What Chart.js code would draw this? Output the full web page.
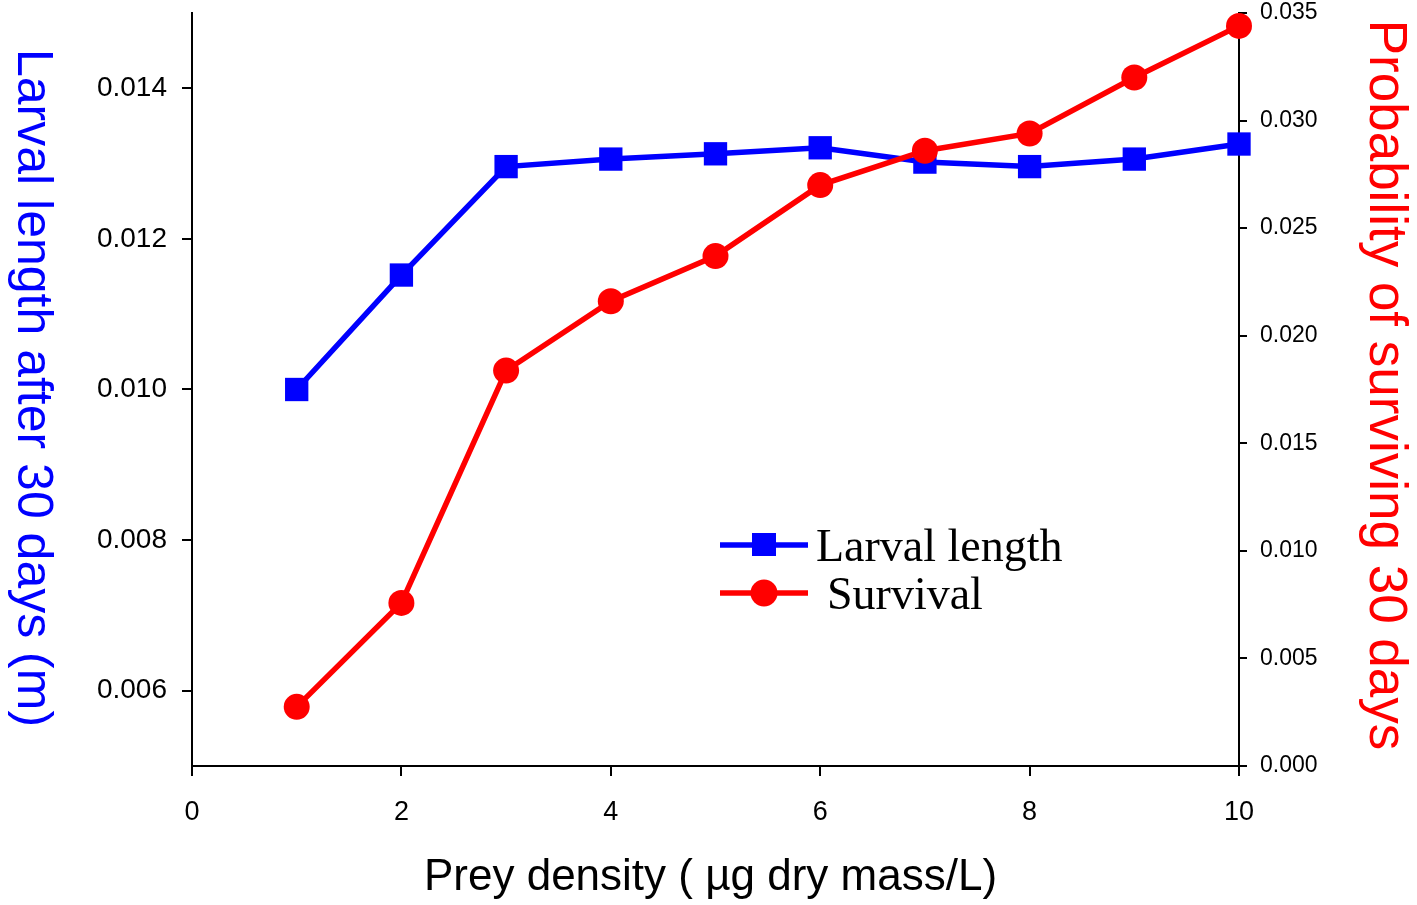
<!DOCTYPE html>
<html lang="en">
<head>
<meta charset="UTF-8">
<script src="https://cdn.jsdelivr.net/npm/chart.js"></script>
<title>Larval length and survival</title>
<style>
  body { margin: 0; background: #fff; }
  #wrap { width: 1417px; height: 905px; }
</style>
</head>
<body>
<div id="wrap"><canvas id="myChart"></canvas></div>
<script>
// values
const preyDensity = [1, 2, 3, 4, 5, 6, 7, 8, 9, 10];
const larvalLength = [0.0100, 0.01152, 0.01296, 0.01306, 0.01313, 0.01321, 0.01302, 0.01296, 0.01306, 0.01326];
const survival = [0.00275, 0.00758, 0.01838, 0.0216, 0.0237, 0.0270, 0.0286, 0.0294, 0.0320, 0.0344];
const lengthTicks = [0.006, 0.008, 0.010, 0.012, 0.014];
const survivalTicks = [0, 0.005, 0.010, 0.015, 0.020, 0.025, 0.030, 0.035];

const sans = '"Liberation Sans", Arial, sans-serif';

// axis titles and the inside legend
const extras = {
  id: 'extras',
  afterDraw(chart) {
    const ctx = chart.ctx;
    const area = chart.chartArea;
    ctx.save();
    ctx.textBaseline = 'alphabetic';

    ctx.fillStyle = '#000';
    ctx.textAlign = 'center';
    ctx.font = '44px ' + sans;
    ctx.fillText('Prey density ( \u00b5g dry mass/L)', (area.left + area.right) / 2 - 5, 890);

    ctx.save();
    ctx.translate(18, 388);
    ctx.rotate(Math.PI / 2);
    ctx.fillStyle = '#0000ff';
    ctx.font = '50px ' + sans;
    ctx.fillText('Larval length after 30 days (m)', 0, 0);
    ctx.restore();

    ctx.save();
    ctx.translate(1370, 385);
    ctx.rotate(Math.PI / 2);
    ctx.fillStyle = '#ff0000';
    ctx.font = '53px ' + sans;
    ctx.fillText('Probability of surviving 30 days', 0, 0);
    ctx.restore();

    // legend
    ctx.lineWidth = 5.5;
    ctx.strokeStyle = '#0000ff';
    ctx.beginPath(); ctx.moveTo(720, 545); ctx.lineTo(808, 545); ctx.stroke();
    ctx.fillStyle = '#0000ff';
    ctx.fillRect(752, 533, 24, 23);
    ctx.strokeStyle = '#ff0000';
    ctx.beginPath(); ctx.moveTo(720, 593); ctx.lineTo(808, 593); ctx.stroke();
    ctx.fillStyle = '#ff0000';
    ctx.beginPath(); ctx.arc(764, 593, 13.5, 0, Math.PI * 2); ctx.fill();

    ctx.fillStyle = '#000';
    ctx.textAlign = 'left';
    ctx.font = '46px "Liberation Serif", "Times New Roman", serif';
    ctx.fillText('Larval length', 816, 561);
    ctx.fillText('Survival', 827, 609);
    ctx.restore();
  }
};

const axisLines = {
  display: true,
  drawOnChartArea: false,
  drawTicks: true,
  tickLength: 10,
  color: '#000',
  lineWidth: 2
};

new Chart(document.getElementById('myChart'), {
  type: 'line',
  data: {
    datasets: [{
      label: 'Larval length',
      data: preyDensity.map((x, i) => ({ x: x, y: larvalLength[i] })),
      yAxisID: 'y',
      borderColor: '#0000ff',
      backgroundColor: '#0000ff',
      borderWidth: 5.5,
      pointStyle: 'rect',
      pointRadius: 16.5,
      pointBorderWidth: 0,
      clip: false,
      order: 1
    }, {
      label: 'Survival',
      data: preyDensity.map((x, i) => ({ x: x, y: survival[i] })),
      yAxisID: 'y2',
      borderColor: '#ff0000',
      backgroundColor: '#ff0000',
      borderWidth: 5.5,
      pointStyle: 'circle',
      pointRadius: 13,
      pointBorderWidth: 0,
      clip: false,
      order: 0
    }]
  },
  options: {
    responsive: true,
    maintainAspectRatio: false,
    animation: false,
    layout: { autoPadding: false, padding: { top: 13, left: 0, right: 0, bottom: 0 } },
    plugins: {
      legend: { display: false },
      tooltip: { enabled: false }
    },
    scales: {
      x: {
        type: 'linear',
        min: 0,
        max: 10,
        grid: axisLines,
        border: { display: true, color: '#000', width: 2 },
        ticks: {
          stepSize: 2,
          color: '#000',
          padding: 20,
          font: { family: sans, size: 27 }
        },
        afterFit(scale) {
          scale.height = 139;
          scale.paddingLeft = 0;
          scale.paddingRight = 0;
        }
      },
      y: {
        position: 'left',
        min: 0.005,
        max: 0.015,
        grid: axisLines,
        border: { display: true, color: '#000', width: 2 },
        afterBuildTicks(scale) { scale.ticks = lengthTicks.map(v => ({ value: v })); },
        ticks: {
          color: '#000',
          padding: 15,
          font: { family: sans, size: 28 },
          callback: v => v.toFixed(3)
        },
        afterFit(scale) {
          scale.width = 192;
          scale.paddingTop = 0;
          scale.paddingBottom = 0;
        }
      },
      y2: {
        position: 'right',
        min: 0,
        max: 0.035,
        grid: Object.assign({}, axisLines, { tickLength: 8 }),
        border: { display: true, color: '#000', width: 2 },
        afterBuildTicks(scale) { scale.ticks = survivalTicks.map(v => ({ value: v })); },
        ticks: {
          color: '#000',
          padding: 13,
          font: { family: sans, size: 23 },
          callback: v => v.toFixed(3)
        },
        afterFit(scale) {
          scale.width = 178;
          scale.paddingTop = 0;
          scale.paddingBottom = 0;
        }
      }
    }
  },
  plugins: [extras]
});
</script>
</body>
</html>
